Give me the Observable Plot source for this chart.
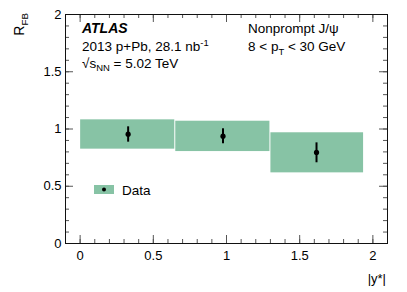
<!DOCTYPE html>
<html>
<head>
<meta charset="utf-8">
<script src="https://cdn.jsdelivr.net/npm/d3@7"></script>
<script src="https://cdn.jsdelivr.net/npm/@observablehq/plot@0.6"></script>
<style>
  html, body { margin: 0; padding: 0; background: #fff; }
  #chart { position: relative; width: 407px; height: 292px; }
</style>
</head>
<body>
<div id="chart"></div>
<script>
// Data
const binLo = [0, 0.65, 1.3];
const binHi = [0.65, 1.3, 1.94];
const sysLo = [0.824, 0.803, 0.617];
const sysHi = [1.08, 1.068, 0.967];
const ptX = [0.328, 0.976, 1.615];
const ptY = [0.955, 0.937, 0.795];
const errLo = [0.885, 0.871, 0.705];
const errHi = [1.019, 1.002, 0.879];

const xMajor = [0, 0.5, 1, 1.5, 2];
const xMinor = d3.range(0, 21).map(i => i / 10);
const yMajor = [0, 0.5, 1, 1.5, 2];
const yMinor = d3.range(0, 21).map(i => i / 10);

const rows = binLo.map((b, i) => ({
  x1: b, x2: binHi[i], y1: sysLo[i], y2: sysHi[i],
  px: ptX[i], py: ptY[i], lo: errLo[i], hi: errHi[i]
}));

const W = 407, H = 292;
const mL = 65, mR = 20, mT = 14, mB = 49;
const fw = W - mL - mR, fh = H - mT - mB;
const green = "#87c3a5";
const tickInk = "#555";
const frameInk = "#111";

const plot = Plot.plot({
  width: W, height: H,
  marginLeft: mL, marginRight: mR, marginTop: mT, marginBottom: mB,
  style: { fontFamily: "'Liberation Sans', Arial, sans-serif", fontSize: "13px", background: "#fff", color: "#000" },
  x: { domain: [-0.1, 2.1], label: null },
  y: { domain: [0, 2], label: null },
  marks: [
    Plot.rect(rows, { x1: "x1", x2: "x2", y1: "y1", y2: "y2", fill: green, insetLeft: 0.5, insetRight: 0.5 }),
    Plot.ruleX(rows, { x: "px", y1: "lo", y2: "hi", stroke: "#000", strokeWidth: 2 }),
    Plot.dot(rows, { x: "px", y: "py", r: 2.6, fill: "#000", stroke: "none" }),
    // inner ticks, bottom & top
    Plot.tickX(xMinor, { x: d => d, insetTop: fh - 4, stroke: tickInk }),
    Plot.tickX(xMajor, { x: d => d, insetTop: fh - 8, stroke: tickInk }),
    Plot.tickX(xMinor, { x: d => d, insetBottom: fh - 4, stroke: tickInk }),
    Plot.tickX(xMajor, { x: d => d, insetBottom: fh - 8, stroke: tickInk }),
    // inner ticks, left & right
    Plot.tickY(yMinor, { y: d => d, insetRight: fw - 4, stroke: tickInk }),
    Plot.tickY(yMajor, { y: d => d, insetRight: fw - 8, stroke: tickInk }),
    Plot.tickY(yMinor, { y: d => d, insetLeft: fw - 4, stroke: tickInk }),
    Plot.tickY(yMajor, { y: d => d, insetLeft: fw - 8, stroke: tickInk }),
    Plot.axisX({ ticks: xMajor, tickSize: 0, tickPadding: 7, tickFormat: d => String(d), label: null }),
    Plot.axisY({ ticks: yMajor, tickSize: 0, tickPadding: 4, tickFormat: d => String(d), label: null }),
    Plot.frame({ stroke: frameInk, strokeWidth: 1 })
  ]
});

document.getElementById("chart").appendChild(plot);

const svg = d3.select(plot);
const font = "'Liberation Sans', Arial, sans-serif";

function addText(x, y, parts, opts = {}) {
  const t = svg.append("text")
    .attr("x", x).attr("y", y)
    .attr("font-family", font)
    .attr("font-size", opts.size || 13.5)
    .attr("fill", "#000")
    .attr("text-anchor", opts.anchor || "start");
  if (opts.transform) t.attr("transform", opts.transform).attr("x", 0).attr("y", 0);
  if (opts.weight) t.attr("font-weight", opts.weight);
  if (opts.style) t.attr("font-style", opts.style);
  parts.forEach(p => {
    const s = t.append("tspan").text(p.t);
    if (p.sub) s.attr("font-size", "0.7em").attr("dy", p.dy);
    if (p.sup) s.attr("font-size", "0.7em").attr("dy", p.dy);
    if (p.back) s.attr("dy", p.back);
  });
  return t;
}

// Annotations
addText(82, 33, [{ t: "ATLAS" }], { weight: "bold", style: "italic", size: 14 });
addText(82, 51, [{ t: "2013 p+Pb, 28.1 nb" }, { t: "-1", sup: true, dy: -5 }]);
addText(82, 68, [{ t: "\u221As" }, { t: "NN", sub: true, dy: 3 }, { t: " = 5.02 TeV", back: -3 }]);
addText(248, 33, [{ t: "Nonprompt J/\u03C8" }]);
addText(248, 51, [{ t: "8 < p" }, { t: "T", sub: true, dy: 4 }, { t: " < 30 GeV", back: -4 }]);

// Axis titles
addText(0, 0, [{ t: "R" }, { t: "FB", sub: true, dy: 4 }], { anchor: "end", size: 14, transform: "translate(24,13) rotate(-90)" });
addText(386, 283, [{ t: "|y*|" }], { anchor: "end", size: 13 });

// Legend
svg.append("rect").attr("x", 94).attr("y", 185).attr("width", 20).attr("height", 9).attr("fill", green);
svg.append("circle").attr("cx", 104).attr("cy", 189.5).attr("r", 2).attr("fill", "#000");
addText(122, 195, [{ t: "Data" }], { size: 13.5 });
</script>
</body>
</html>
